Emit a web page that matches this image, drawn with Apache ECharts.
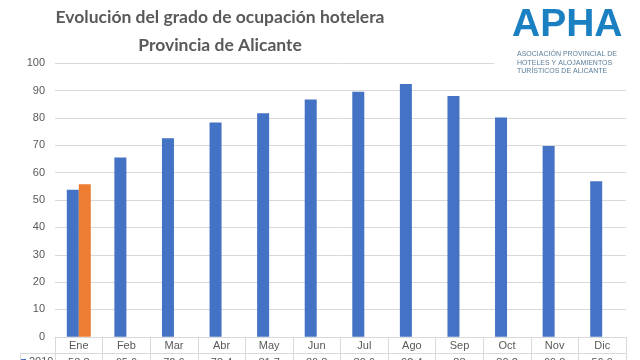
<!DOCTYPE html>
<html><head><meta charset="utf-8">
<script src="https://cdn.jsdelivr.net/npm/echarts@6/dist/echarts.min.js"></script>
<style>html,body{margin:0;padding:0;background:#fff}#c{width:640px;height:360px}</style>
</head><body><div id="c"></div>
<script>
const months = ['Ene','Feb','Mar','Abr','May','Jun','Jul','Ago','Sep','Oct','Nov','Dic'];
const values2019 = [53.8, 65.6, 72.6, 78.4, 81.7, 86.8, 89.6, 92.4, 88, 80.2, 69.8, 56.9];
const values2020 = [55.8, null, null, null, null, null, null, null, null, null, null, null];
const yTicks = [0,10,20,30,40,50,60,70,80,90,100];

const chart = echarts.init(document.getElementById('c'));
const grey = '#595959', line = '#d9d9d9';
chart.setOption({
  backgroundColor: '#fff',
  animation: false,
  title: {
    text: 'Evolución del grado de ocupación hotelera\nProvincia de Alicante',
    left: 220, top: 3, padding: 0, textAlign: 'center',
    textStyle: {fontFamily: 'Lato', fontWeight: 'bold', fontSize: 17.5, lineHeight: 28.5, color: grey}
  },
  legend: {
    data: ['2019'], left: 21, top: 356, itemWidth: 5, itemHeight: 5, itemGap: 3, icon: 'rect',
    textStyle: {fontFamily: 'Liberation Sans', fontSize: 11, color: grey, padding: [0,0,0,-2]}, padding: 0
  },
  grid: {left: 55, right: 14, top: 63.3, bottom: 23.2, outerBoundsMode: 'none', containLabel: false},
  xAxis: [{
    type: 'category', data: months, position: 'bottom',
    axisLine: {lineStyle: {color: line}},
    axisTick: {show: true, length: 16, lineStyle: {color: line}},
    axisLabel: {color: grey, fontFamily: 'Liberation Sans', fontSize: 11, margin: 4}
  }, {
    type: 'category', data: values2019.map(v => String(v)), position: 'bottom', offset: 16,
    axisLine: {lineStyle: {color: line}},
    axisTick: {show: true, length: 12, lineStyle: {color: line}},
    axisLabel: {color: grey, fontFamily: 'Liberation Sans', fontSize: 11, margin: 5}
  }],
  yAxis: {
    type: 'value', min: 0, max: 100, interval: 10,
    axisLine: {show: false}, axisTick: {show: false},
    axisLabel: {color: grey, fontFamily: 'Liberation Sans', fontSize: 11, margin: 10,
      formatter: v => yTicks.includes(v) ? String(v) : ''},
    splitLine: {lineStyle: {color: line}}
  },
  series: [
    {name: '2019', type: 'bar', data: values2019, barWidth: 12, barGap: '0%', itemStyle: {color: '#4472C4'}},
    {name: '2020', type: 'bar', data: values2020, barWidth: 12, itemStyle: {color: '#ED7D31'}}
  ],
  graphic: [
    {type: 'rect', shape: {x: 494, y: 0, width: 146, height: 80}, style: {fill: '#fff'}, z: 10},
    {type: 'text', left: 512, top: 6, z: 11, style: {text: 'APHA', fontFamily: 'Liberation Sans', fontWeight: 'bold', fontSize: 39, fill: '#1a80c2'}},
    {type: 'text', left: 517, top: 50, z: 11, style: {text: 'ASOCIACIÓN PROVINCIAL DE\nHOTELES Y ALOJAMIENTOS\nTURÍSTICOS DE ALICANTE', fontFamily: 'Liberation Sans', fontSize: 7, lineHeight: 8.5, fill: '#5a7d99'}},
    {type: 'line', shape: {x1: 20, y1: 353.5, x2: 55, y2: 353.5}, style: {stroke: line}, z: 1},
    {type: 'line', shape: {x1: 20.5, y1: 353, x2: 20.5, y2: 360}, style: {stroke: line}, z: 1}
  ]
});
</script></body></html>
